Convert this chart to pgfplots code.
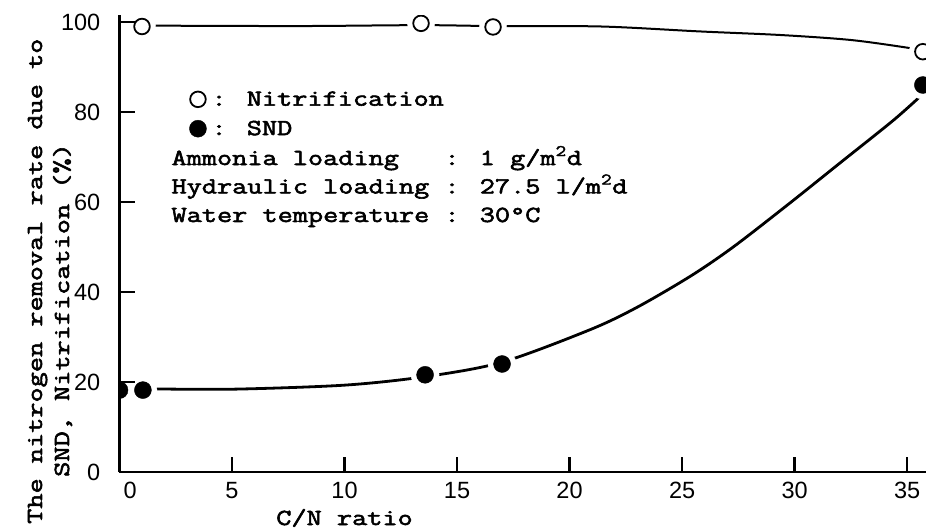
\documentclass[border=0pt]{standalone}
\usepackage{fontspec}
\usepackage{pgfplots}
\usepackage{pgfplotstable}
\pgfplotsset{compat=1.18}
\newfontfamily\tw[FakeStretch=1.28,FakeBold=2.5]{Latin Modern Mono}
\newfontfamily\tk{Liberation Sans}
\newcommand{\twf}{\tw\fontsize{23bp}{28.5bp}\selectfont}
\newcommand{\tkf}{\tk\fontsize{23.5bp}{26bp}\selectfont}

% measured points
\pgfplotstableread{
x y
1.0 99.0
13.4 99.7
16.6 98.9
35.7 93.4
}\nitpts
\pgfplotstableread{
x y
0.0 18.2
1.04 18.2
13.58 21.6
17.0 24.0
35.7 86.0
}\sndpts
% drawn curves
\pgfplotstableread{
x y
1.0 99.2
8.0 99.1
13.4 99.3
16.6 99.1
21.4 99.0
25.8 97.9
29.4 97.1
32.5 96.0
35.0 94.3
35.7 93.6
}\nitline
\pgfplotstableread{
x y
1.04 18.5
5.0 18.4
10.0 19.3
13.6 21.2
17.0 24.4
20.9 31.6
23.0 36.6
25.4 43.6
27.3 50.1
29.8 59.8
32.0 68.6
34.4 78.2
35.7 84.0
}\sndline

\begin{document}
\begin{tikzpicture}
\begin{axis}[
  scale only axis, width=806.5bp, height=456.75bp,
  xmin=0, xmax=35.84, ymin=0, ymax=101.5,
  axis x line*=bottom, axis y line*=left,
  axis line style={line width=2.6bp, -},
  axis on top,
  clip mode=individual, clip marker paths=true,
  tick align=inside, major tick length=15bp,
  tick style={line width=2.2bp, black},
  xtick={5,10,...,35}, ytick={0,20,...,100},
  extra x ticks={0.47}, extra x tick labels={0},
  extra x tick style={major tick length=0pt},
  /pgf/number format/assume math mode=true,
  xticklabel style={font=\tkf, anchor=north, inner sep=0pt, yshift=-10bp},
  yticklabel style={font=\tkf, anchor=east, inner sep=0pt, xshift=-19bp},
  legend style={at={(axis cs:3.1,84.6)}, anchor=north west, draw=none, fill=none,
    inner sep=0pt, font=\twf, column sep=5bp, row sep=13bp, nodes={inner sep=0pt}},
  legend cell align=left,
  legend image code/.code={\draw[#1] plot coordinates {(0bp,0bp)};},
]
\addplot[smooth, tension=0.5, line width=2bp, black, forget plot] table {\nitline};
\addplot[smooth, tension=0.5, line width=2.8bp, black, forget plot] table {\sndline};
\addplot[only marks, mark=*, mark size=13.5bp, white, forget plot] table {\nitpts};
\addplot[only marks, mark=*, mark size=14bp, white, forget plot] table {\sndpts};
\addplot[only marks, mark=*, mark size=7.8bp, mark options={fill=white, draw=black, line width=1.8bp}] table {\nitpts};
\addplot[only marks, mark=*, mark size=8.5bp, mark options={fill=black, draw=black}] table {\sndpts};
\legend{: Nitrification, : SND}

\node[font=\twf, anchor=base west] at (axis cs:2.156,68.22) {Ammonia loading\ \ \ : 1 g/m\textsuperscript{2}d};
\node[font=\twf, anchor=base west] at (axis cs:2.156,61.9) {Hydraulic loading : 27.5 l/m\textsuperscript{2}d};
\node[font=\twf, anchor=base west] at (axis cs:2.156,55.56) {Water temperature : 30°C};
\node[font=\twf, anchor=base, yshift=-53bp] at (axis cs:10,0) {C/N ratio};
\node[font=\twf, anchor=base, rotate=90] at ([xshift=-77.5bp]axis cs:0,42.4) {The nitrogen removal rate due to};
\node[font=\twf, anchor=base, rotate=90] at ([xshift=-50.5bp]axis cs:0,36.0) {SND, Nitrification (\%)};
\end{axis}
\pgfresetboundingbox
\path[use as bounding box] (-119.5bp,-59bp) rectangle (806.5bp,472bp);
\end{tikzpicture}
\end{document}
